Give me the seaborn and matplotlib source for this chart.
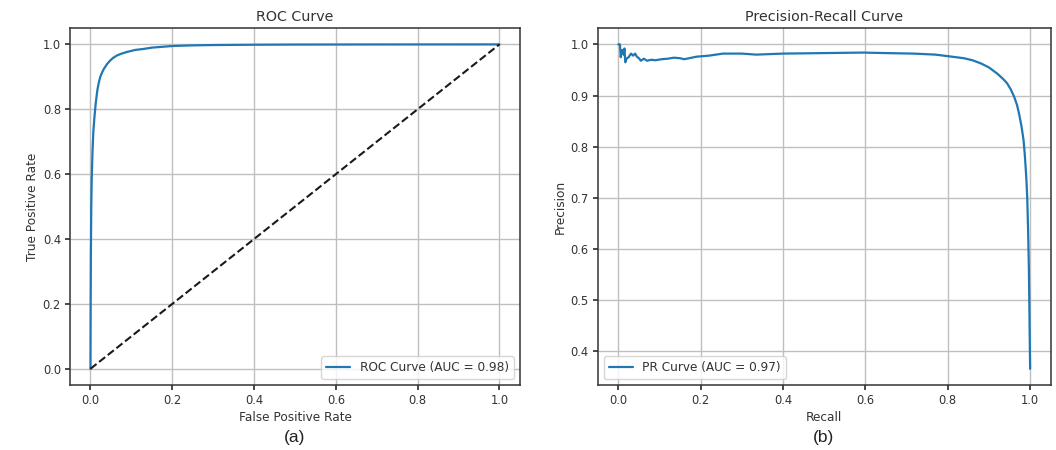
import pandas as pd
import seaborn as sns
import matplotlib.pyplot as plt

# ROC curve
roc_fpr = [0.0, 0.0005, 0.001, 0.002, 0.003, 0.005, 0.007, 0.010, 0.013, 0.017,
           0.020, 0.024, 0.029, 0.033, 0.041, 0.048, 0.055, 0.065, 0.075, 0.090,
           0.110, 0.130, 0.150, 0.180, 0.200, 0.250, 0.300, 0.400, 0.500, 0.700,
           1.0]
roc_tpr = [0.0, 0.20, 0.35, 0.50, 0.58, 0.67, 0.73, 0.78, 0.82, 0.86,
           0.88, 0.90, 0.915, 0.925, 0.94, 0.950, 0.958, 0.966, 0.971, 0.977,
           0.983, 0.986, 0.990, 0.993, 0.995, 0.997, 0.998, 0.999, 0.9995, 0.9998,
           1.0]
roc_auc = 0.98

# precision-recall curve
pr_recall = [0.0, 0.004, 0.006, 0.008, 0.010, 0.013, 0.015, 0.017, 0.020, 0.025,
             0.031, 0.036, 0.041, 0.045, 0.050, 0.055, 0.062, 0.070, 0.080, 0.090,
             0.105, 0.120, 0.135, 0.150, 0.160, 0.190, 0.220, 0.254, 0.300, 0.335,
             0.400, 0.500, 0.595, 0.650, 0.717, 0.770, 0.800, 0.839, 0.860, 0.880,
             0.900, 0.920, 0.935, 0.944, 0.953, 0.961, 0.968, 0.973, 0.979, 0.984,
             0.987, 0.989, 0.991, 0.993, 0.995, 0.997, 0.998, 0.999, 1.0]
pr_precision = [1.0, 1.0, 0.975, 0.988, 0.989, 0.980, 0.992, 0.965, 0.972, 0.975,
                0.982, 0.978, 0.982, 0.976, 0.973, 0.968, 0.972, 0.968, 0.970, 0.969,
                0.971, 0.972, 0.974, 0.973, 0.971, 0.976, 0.978, 0.982, 0.982, 0.980,
                0.982, 0.983, 0.984, 0.983, 0.982, 0.980, 0.977, 0.973, 0.969, 0.963,
                0.955, 0.943, 0.932, 0.924, 0.912, 0.898, 0.882, 0.865, 0.840, 0.813,
                0.785, 0.761, 0.735, 0.700, 0.640, 0.560, 0.500, 0.430, 0.366]
pr_auc = 0.97

roc_df = pd.DataFrame({'fpr': roc_fpr, 'tpr': roc_tpr})
pr_df = pd.DataFrame({'recall': pr_recall, 'precision': pr_precision})

sns.set_theme(style='ticks', rc={
    'axes.grid': True,
    'grid.color': '#bfbfbf',
    'grid.linewidth': 1.0,
    'axes.edgecolor': '#333333',
    'axes.linewidth': 1.1,
    'xtick.labelsize': 8.3,
    'ytick.labelsize': 8.3,
    'xtick.major.size': 3.5,
    'ytick.major.size': 3.5,
    'xtick.major.pad': 3.0,
    'ytick.major.pad': 3.0,
    'axes.labelpad': 3.0,
    'axes.labelsize': 8.7,
    'axes.titlesize': 10.3,
    'axes.titlepad': 5.5,
    'legend.fontsize': 8.7,
    'text.color': '#333333',
    'axes.labelcolor': '#333333',
    'xtick.color': '#333333',
    'ytick.color': '#333333',
})
plt.rcParams['font.family'] = ['DejaVu Sans']

fig = plt.figure(figsize=(10.56, 4.5), dpi=100)
ax1 = fig.add_axes([0.0663, 0.1444, 0.426, 0.793])
ax2 = fig.add_axes([0.566, 0.1444, 0.429, 0.793])

blue = '#1f77b4'

sns.lineplot(data=roc_df, x='fpr', y='tpr', ax=ax1, color=blue, linewidth=1.6,
             sort=False, estimator=None, label=f'ROC Curve (AUC = {roc_auc:.2f})')
ax1.plot([0, 1], [0, 1], 'k--', linewidth=1.5)
ax1.set_title('ROC Curve')
ax1.set_xlabel('False Positive Rate')
ax1.set_ylabel('True Positive Rate')
ax1.legend(loc='lower right', fancybox=True, framealpha=0.8)

sns.lineplot(data=pr_df, x='recall', y='precision', ax=ax2, color=blue, linewidth=1.6,
             sort=False, estimator=None, label=f'PR Curve (AUC = {pr_auc:.2f})')
ax2.set_title('Precision-Recall Curve')
ax2.set_xlabel('Recall')
ax2.set_ylabel('Precision')
ax2.legend(loc='lower left', fancybox=True, framealpha=0.8)

for ax in (ax1, ax2):
    ax.set_xticks([0.0, 0.2, 0.4, 0.6, 0.8, 1.0])

fig.text(0.279, 0.027, '(a)', ha='center', va='center', fontsize=12.5,
         family=['Liberation Sans', 'DejaVu Sans'], color='#222222')
fig.text(0.780, 0.027, '(b)', ha='center', va='center', fontsize=12.5,
         family=['Liberation Sans', 'DejaVu Sans'], color='#222222')

fig.savefig('out.png', dpi=100)
